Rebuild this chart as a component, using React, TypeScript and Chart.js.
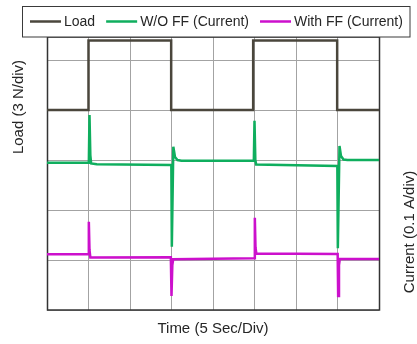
import React, { useEffect, useRef } from "react";
import { Chart, registerables } from "chart.js";

Chart.register(...registerables);

// Trace labels and axis captions
const seriesNames = ["Load", "W/O FF (Current)", "With FF (Current)"];
const seriesColors = ["#4a463c", "#0fae5e", "#cc10cc"];
const timeTitle = "Time (5 Sec/Div)";
const loadTitle = "Load (3 N/div)";
const currentTitle = "Current (0.1 A/div)";

// Screen range: time in seconds (5 s per division), levels in divisions
const timeMax = 40;
const timeStep = 5;
const divMax = 5.46;

// Load step signal
const loadTime = [0, 5.0, 5.0, 14.96, 14.96, 24.84, 24.84, 34.96, 34.96, 40];
const loadDiv = [4.0, 4.0, 5.39, 5.39, 4.0, 4.0, 5.39, 5.39, 4.0, 4.0];

// Current without feed-forward
const woTime = [
  0, 5.04, 5.12, 5.22, 5.32, 6.0, 14.98, 15.04, 15.22, 15.42, 15.72, 16.2,
  24.92, 25.0, 25.1, 25.2, 34.98, 35.04, 35.24, 35.42, 35.72, 36.2, 40,
];
const woDiv = [
  2.946, 2.946, 3.9, 3.1, 2.93, 2.914, 2.9, 1.266, 3.266, 3.06, 3.0, 2.986,
  2.986, 3.786, 3.0, 2.91, 2.88, 1.234, 3.28, 3.08, 3.01, 3.0, 3.0,
];

// Current with feed-forward
const ffTime = [
  0, 4.98, 5.04, 5.12, 5.22, 14.92, 15.0, 15.1, 15.2, 24.98, 25.04, 25.12,
  25.22, 35.02, 35.08, 35.18, 35.28, 40,
];
const ffDiv = [
  1.114, 1.114, 1.766, 1.2, 1.05, 1.054, 0.28, 0.9, 1.014, 1.034, 1.846, 1.25,
  1.13, 1.12, 0.28, 0.9, 1.02, 1.02,
];

const toPoints = (xs: number[], ys: number[]) => xs.map((x, i) => ({ x, y: ys[i] }));

const FONT = "'Liberation Sans', Arial, sans-serif";
const TEXT_COLOR = "#262626";

const decorPlugin = {
  id: "scopeDecor",
  beforeDatasetsDraw(chart: any) {
    const { ctx, chartArea } = chart;
    ctx.save();
    ctx.strokeStyle = "#333333";
    ctx.lineWidth = 1.5;
    ctx.strokeRect(
      chartArea.left + 0.5,
      chartArea.top,
      chartArea.right - chartArea.left,
      chartArea.bottom - chartArea.top
    );
    ctx.restore();
  },
  afterDraw(chart: any) {
    const { ctx, chartArea } = chart;
    ctx.save();

    // legend frame
    ctx.fillStyle = "#ffffff";
    ctx.strokeStyle = "#3a3a3a";
    ctx.lineWidth = 1;
    ctx.fillRect(22.5, 6.5, 387.5, 30.5);
    ctx.strokeRect(22.5, 6.5, 387.5, 30.5);

    // legend entries
    ctx.font = `14px ${FONT}`;
    ctx.textBaseline = "middle";
    ctx.textAlign = "left";
    const lineLen = 31;
    const y = 21.5;
    let x = 30;
    chart.data.datasets.forEach((ds: any) => {
      ctx.strokeStyle = ds.borderColor;
      ctx.lineWidth = 2.5;
      ctx.beginPath();
      ctx.moveTo(x, y);
      ctx.lineTo(x + lineLen, y);
      ctx.stroke();
      x += lineLen + 3;
      ctx.fillStyle = TEXT_COLOR;
      ctx.fillText(ds.label, x, y + 0.5);
      x += ctx.measureText(ds.label).width + 11;
    });

    // axis captions
    ctx.font = `15px ${FONT}`;
    ctx.fillStyle = TEXT_COLOR;
    ctx.textAlign = "center";
    ctx.textBaseline = "middle";
    ctx.fillText(timeTitle, (chartArea.left + chartArea.right) / 2, 329);

    ctx.save();
    ctx.translate(19, 107);
    ctx.rotate(-Math.PI / 2);
    ctx.fillText(loadTitle, 0, 0);
    ctx.restore();

    ctx.save();
    ctx.translate(410, 232);
    ctx.rotate(-Math.PI / 2);
    ctx.fillText(currentTitle, 0, 0);
    ctx.restore();

    ctx.restore();
  },
};

export default function App() {
  const canvasRef = useRef<HTMLCanvasElement | null>(null);

  useEffect(() => {
    if (!canvasRef.current) return;
    const series = [
      toPoints(loadTime, loadDiv),
      toPoints(woTime, woDiv),
      toPoints(ffTime, ffDiv),
    ];
    const chart = new Chart(canvasRef.current, {
      type: "line",
      data: {
        datasets: series.map((data, i) => ({
          label: seriesNames[i],
          data,
          borderColor: seriesColors[i],
          backgroundColor: seriesColors[i],
          borderWidth: 2.5,
          pointRadius: 0,
          tension: 0,
          fill: false,
        })),
      },
      options: {
        animation: false,
        responsive: false,
        devicePixelRatio: 1,
        layout: { padding: { left: 47, right: 38, top: 37, bottom: 34 } },
        plugins: {
          legend: { display: false },
          tooltip: { enabled: false },
        },
        scales: {
          x: {
            type: "linear",
            min: 0,
            max: timeMax,
            ticks: { display: false, stepSize: timeStep },
            grid: { color: "#a3a3a3", lineWidth: 1, drawTicks: false },
            border: { display: false },
          },
          y: {
            type: "linear",
            min: 0,
            max: divMax,
            ticks: { display: false, stepSize: 1, includeBounds: false },
            grid: { color: "#a3a3a3", lineWidth: 1, drawTicks: false },
            border: { display: false },
          },
        },
      },
      plugins: [decorPlugin],
    });
    return () => chart.destroy();
  }, []);

  return (
    <div style={{ position: "absolute", left: 0, top: 0, width: 417, height: 344, background: "#fff" }}>
      <canvas ref={canvasRef} width={417} height={344} style={{ width: 417, height: 344 }} />
    </div>
  );
}
